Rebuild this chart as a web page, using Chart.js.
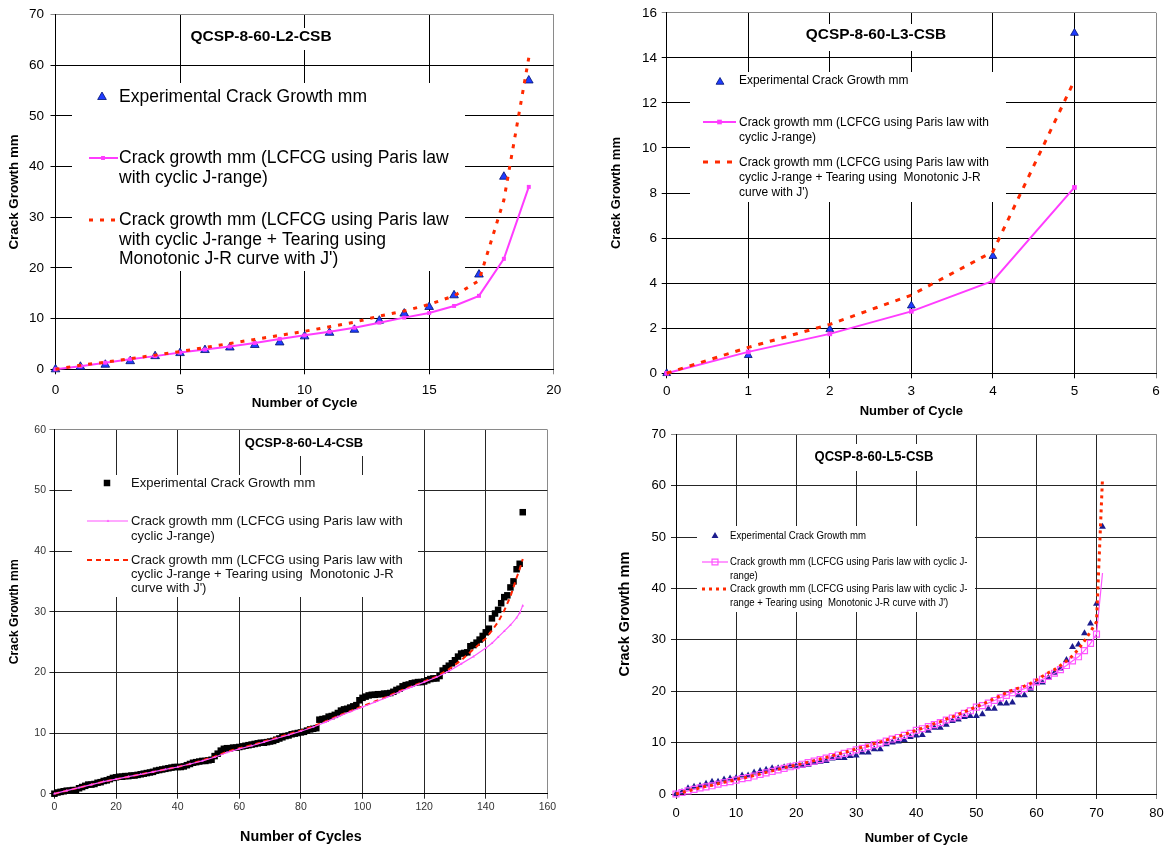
<!DOCTYPE html>
<html>
<head>
<meta charset="utf-8">
<title>QCSP-8-60 crack growth</title>
<script src="https://cdn.jsdelivr.net/npm/chart.js@4.4.1/dist/chart.umd.min.js"></script>
<style>
  html, body { margin: 0; padding: 0; background: #ffffff; }
  body { width: 1170px; height: 848px; position: relative; overflow: hidden; }
  .panel { position: absolute; }
  .panel canvas { display: block; }
</style>
</head>
<body>
<div class="panel" style="left:0px;top:0px;width:585px;height:420px"><canvas id="chartL2"></canvas></div>
<div class="panel" style="left:585px;top:0px;width:585px;height:420px"><canvas id="chartL3"></canvas></div>
<div class="panel" style="left:0px;top:420px;width:585px;height:428px"><canvas id="chartL4"></canvas></div>
<div class="panel" style="left:585px;top:420px;width:585px;height:428px"><canvas id="chartL5"></canvas></div>
<script>
// ---------- Specimen QCSP-8-60-L2-CSB ----------
const l2Cycles = [0, 1, 2, 3, 4, 5, 6, 7, 8, 9, 10, 11, 12, 13, 14, 15, 16, 17, 18, 19];
const l2Experimental = [0, 0.5, 0.9, 1.6, 2.6, 3.2, 3.8, 4.3, 4.8, 5.3, 6.5, 7.2, 7.8, 9.6, 11.0, 12.3, 14.6, 18.7, 38.0, 57.0];
const l2ParisJ = [0, 0.6, 1.3, 2.0, 2.6, 3.3, 3.9, 4.5, 5.2, 6.0, 6.7, 7.4, 8.2, 9.2, 10.2, 11.1, 12.5, 14.5, 21.8, 36.0];
const l2ParisJTearing = [0, 0.8, 1.4, 2.1, 2.8, 3.5, 4.3, 5.1, 5.9, 6.7, 7.5, 8.4, 9.3, 10.5, 11.5, 12.8, 14.5, 17.5, 33.4, 61.5];

// ---------- Specimen QCSP-8-60-L3-CSB ----------
const l3Cycles = [0, 1, 2, 3, 4, 5];
const l3Experimental = [0, 0.8, 1.95, 3.0, 5.2, 15.1];
const l3ParisJ = [0, 0.95, 1.75, 2.75, 4.1, 8.25];
const l3ParisJTearing = [0, 1.15, 2.17, 3.47, 5.4, 13.0];

// ---------- Specimen QCSP-8-60-L4-CSB ----------
const l4Cycles = [
  0, 1, 2, 3, 4, 5, 6, 7, 8, 9, 10, 11, 12, 13, 14, 15, 16, 17, 18, 19,
  20, 21, 22, 23, 24, 25, 26, 27, 28, 29, 30, 31, 32, 33, 34, 35, 36, 37, 38, 39,
  40, 41, 42, 43, 44, 45, 46, 47, 48, 49, 50, 51, 52, 53, 54, 55, 56, 57, 58, 59,
  60, 61, 62, 63, 64, 65, 66, 67, 68, 69, 70, 71, 72, 73, 74, 75, 76, 77, 78, 79,
  80, 81, 82, 83, 84, 85, 86, 87, 88, 89, 90, 91, 92, 93, 94, 95, 96, 97, 98, 99,
  100, 101, 102, 103, 104, 105, 106, 107, 108, 109, 110, 111, 112, 113, 114, 115, 116, 117, 118, 119,
  120, 121, 122, 123, 124, 125, 126, 127, 128, 129, 130, 131, 132, 133, 134, 135, 136, 137, 138, 139,
  140, 141, 142, 143, 144, 145, 146, 147, 148, 149, 150, 151, 152
];
const l4Experimental = [
  0.0, 0.2, 0.3, 0.4, 0.5, 0.5, 0.6, 0.6, 0.9, 1.1,
  1.3, 1.5, 1.5, 1.6, 1.8, 1.9, 2.1, 2.2, 2.4, 2.6,
  2.7, 2.8, 2.8, 2.9, 2.9, 3.0, 3.0, 3.1, 3.2, 3.3,
  3.4, 3.5, 3.6, 3.8, 3.9, 4.0, 4.1, 4.2, 4.3, 4.4,
  4.4, 4.4, 4.5, 4.7, 4.9, 5.1, 5.2, 5.3, 5.4, 5.4,
  5.5, 5.6, 6.2, 6.6, 7.1, 7.4, 7.5, 7.5, 7.6, 7.6,
  7.7, 7.8, 7.9, 8.0, 8.1, 8.2, 8.3, 8.4, 8.4, 8.5,
  8.6, 8.7, 8.9, 9.1, 9.3, 9.5, 9.6, 9.8, 9.9, 10.0,
  10.1, 10.2, 10.4, 10.6, 10.7, 10.8, 12.2, 12.3, 12.4, 12.7,
  12.8, 13.0, 13.3, 13.7, 13.9, 14.0, 14.2, 14.4, 14.6, 15.4,
  15.8, 16.0, 16.2, 16.3, 16.3, 16.4, 16.4, 16.5, 16.5, 16.6,
  16.8, 17.1, 17.3, 17.7, 17.9, 18.0, 18.2, 18.3, 18.4, 18.4,
  18.5, 18.7, 18.9, 19.0, 19.0, 19.4, 20.3, 20.7, 21.1, 21.5,
  22.0, 22.6, 23.1, 23.2, 23.3, 24.3, 24.5, 24.9, 25.4, 26.0,
  26.6, 27.2, 28.9, 29.7, 30.3, 31.4, 32.4, 32.7, 34.0, 35.0,
  37.0, 37.9, 46.4
];
const l4ModelCycles = [0, 4, 8, 12, 16, 20, 24, 28, 32, 36, 40, 44, 48, 52, 56, 60, 64, 68, 72, 76,
  80, 84, 88, 92, 96, 100, 104, 108, 112, 116, 120, 124, 128, 132, 136, 140, 142, 144, 146, 148, 150, 151, 152];
const l4ParisJ = [0, 0.5, 1.0, 1.5, 2.0, 2.4, 2.8, 3.2, 3.6, 4.0, 4.4, 4.9, 5.4, 6.0, 6.8, 7.4, 7.9, 8.5, 9.1, 9.7,
  10.3, 11.0, 11.8, 12.7, 13.5, 14.3, 15.1, 15.9, 16.8, 17.6, 18.4, 19.2, 20.2, 21.4, 22.6, 24.0, 24.8, 25.8, 26.8, 27.8, 29.0, 29.8, 31.0];
const l4ParisJTearing = [0, 0.5, 1.0, 1.5, 2.0, 2.4, 2.8, 3.2, 3.6, 4.0, 4.4, 4.9, 5.5, 6.1, 6.9, 7.5, 8.0, 8.6, 9.2, 9.8,
  10.4, 11.1, 11.9, 12.8, 13.6, 14.4, 15.2, 16.0, 16.9, 17.7, 18.5, 19.3, 20.5, 22.0, 23.8, 25.6, 26.9, 28.3, 30.2, 32.5, 35.6, 37.0, 38.7];

// ---------- Specimen QCSP-8-60-L5-CSB ----------
const l5Cycles = [
  0, 1, 2, 3, 4, 5, 6, 7, 8, 9, 10, 11, 12, 13, 14, 15, 16, 17, 18, 19,
  20, 21, 22, 23, 24, 25, 26, 27, 28, 29, 30, 31, 32, 33, 34, 35, 36, 37, 38, 39,
  40, 41, 42, 43, 44, 45, 46, 47, 48, 49, 50, 51, 52, 53, 54, 55, 56, 57, 58, 59,
  60, 61, 62, 63, 64, 65, 66, 67, 68, 69, 70, 71
];
const l5Experimental = [
  0, 0.4, 1.1, 1.4, 1.6, 2.0, 2.4, 2.4, 2.8, 3.0,
  3.1, 3.6, 3.6, 4.2, 4.5, 4.7, 5.0, 5.0, 5.2, 5.4,
  5.5, 5.5, 5.7, 6.1, 6.3, 6.4, 6.9, 7.0, 7.0, 7.4,
  7.5, 8.1, 8.1, 8.7, 8.7, 9.7, 10.0, 10.2, 10.5, 11.1,
  11.4, 11.5, 12.3, 12.9, 12.9, 13.5, 14.2, 14.5, 15.0, 15.2,
  15.2, 15.5, 16.6, 16.6, 17.6, 17.6, 17.8, 19.2, 19.2, 20.5,
  21.7, 21.7, 22.6, 23.6, 24.4, 26.1, 28.6, 29.1, 31.3, 33.2,
  37.0, 52.0
];
const l5ParisJ = [
  0, 0.3, 0.6, 0.9, 1.2, 1.4, 1.6, 1.9, 2.2, 2.4,
  2.7, 3.0, 3.2, 3.5, 3.8, 4.1, 4.4, 4.7, 5.0, 5.3,
  5.5, 5.8, 6.1, 6.4, 6.7, 7.0, 7.3, 7.6, 7.9, 8.2,
  8.6, 8.9, 9.2, 9.6, 9.9, 10.3, 10.7, 11.0, 11.4, 11.8,
  12.4, 12.7, 13.1, 13.5, 13.9, 14.4, 14.8, 15.2, 15.7, 16.2,
  16.9, 17.2, 17.7, 18.2, 18.7, 19.2, 19.7, 20.1, 20.5, 21.0,
  21.8, 22.3, 22.9, 23.5, 24.2, 25.0, 25.9, 26.7, 27.9, 29.3,
  31.1, 43.0
];
const l5ParisJTearing = [
  0, 0.3, 0.6, 0.9, 1.2, 1.5, 1.7, 2.0, 2.3, 2.5,
  2.8, 3.1, 3.3, 3.6, 3.9, 4.2, 4.5, 4.8, 5.1, 5.4,
  5.6, 5.9, 6.2, 6.5, 6.8, 7.1, 7.4, 7.8, 8.1, 8.4,
  8.8, 9.1, 9.4, 9.8, 10.1, 10.5, 10.9, 11.2, 11.6, 12.0,
  12.4, 12.8, 13.2, 13.7, 14.1, 14.6, 15.0, 15.5, 16.0, 16.5,
  17.0, 17.5, 18.0, 18.6, 19.1, 19.7, 20.2, 20.6, 21.0, 21.5,
  22.2, 22.9, 23.6, 24.2, 25.0, 25.9, 26.9, 28.2, 29.8, 31.6,
  33.5, 61.5
];

// ---------- Shared text ----------
const LABEL_EXP = 'Experimental Crack Growth mm';
const Y_TITLE = 'Crack Growth mm';
const FONT = '"Liberation Sans", Arial, Helvetica, sans-serif';

const pairs = (xs, ys) => ys.map((y, i) => ({ x: xs[i], y: y }));

function drawText(ctx, s, x, y, sx) {
  ctx.save();
  ctx.translate(x, y);
  ctx.scale(sx, 1);
  ctx.fillText(s, 0, 0);
  ctx.restore();
}

// White boxes, heading and series key drawn inside the plot area
const notesPlugin = {
  id: 'notes',
  beforeDatasetsDraw(chart, args, o) {
    const ctx = chart.ctx;
    ctx.save();
    ctx.fillStyle = '#ffffff';
    o.boxes.forEach(b => ctx.fillRect(b[0], b[1], b[2], b[3]));

    const t = o.title;
    ctx.fillStyle = '#000000';
    ctx.font = 'bold ' + t.size + 'px ' + FONT;
    ctx.textAlign = 'center';
    ctx.textBaseline = 'middle';
    drawText(ctx, t.text, t.x, t.y, t.scaleX || 1);

    const lg = o.legend;
    ctx.font = lg.size + 'px ' + FONT;
    ctx.textAlign = 'left';
    lg.entries.forEach(e => {
      const ds = chart.data.datasets[e.ds];
      if (e.line) {
        ctx.save();
        ctx.strokeStyle = ds.borderColor;
        ctx.lineWidth = ds.borderWidth;
        ctx.setLineDash(ds.borderDash || []);
        ctx.beginPath();
        ctx.moveTo(e.line[0], e.markY);
        ctx.lineTo(e.line[1], e.markY);
        ctx.stroke();
        ctx.restore();
      }
      if (e.markR) {
        ctx.save();
        ctx.setLineDash([]);
        ctx.fillStyle = ds.pointBackgroundColor;
        ctx.strokeStyle = ds.pointBorderColor;
        ctx.lineWidth = ds.pointBorderWidth;
        Chart.helpers.drawPoint(ctx, { pointStyle: ds.pointStyle, rotation: 0, radius: e.markR, borderWidth: ds.pointBorderWidth }, e.markX, e.markY);
        ctx.restore();
      }
      ctx.fillStyle = lg.color;
      e.lines.forEach((s, i) => drawText(ctx, s, lg.textX, e.y[i], lg.scaleX || 1));
    });
    ctx.restore();
  }
};

function edgeColor(max, inner) {
  return c => (c.tick && c.tick.value === max) ? '#8a8a8a' : inner;
}

function buildChart(id, s) {
  const g = s.geom;
  return new Chart(document.getElementById(id), {
    type: 'scatter',
    data: { datasets: s.datasets },
    options: {
      responsive: true,
      maintainAspectRatio: false,
      animation: false,
      devicePixelRatio: 1,
      events: [],
      layout: { padding: { left: 0, top: g.T, right: g.W - g.R, bottom: 0 } },
      plugins: { legend: { display: false }, tooltip: { enabled: false }, notes: s.notes },
      scales: {
        x: {
          type: 'linear', min: s.x.min, max: s.x.max,
          ticks: { stepSize: s.x.step, autoSkip: false, maxRotation: 0, padding: s.x.tickPad,
                   color: s.tickColor, font: { family: FONT, size: s.tickSize } },
          grid: { color: edgeColor(s.x.max, s.gridColor), lineWidth: 1, tickLength: 5 },
          border: { color: '#000000', width: 1 },
          title: { display: true, text: s.x.title, color: '#000000',
                   font: { family: FONT, size: s.x.titleSize, weight: 'bold' },
                   padding: { top: 0, bottom: s.x.titlePad } },
          afterFit: sc => { sc.height = g.H - g.B; }
        },
        y: {
          type: 'linear', min: s.y.min, max: s.y.max,
          ticks: { stepSize: s.y.step, autoSkip: false, padding: s.y.tickPad,
                   color: s.tickColor, font: { family: FONT, size: s.tickSize } },
          grid: { color: edgeColor(s.y.max, s.gridColor), lineWidth: 1, tickLength: 5 },
          border: { color: '#000000', width: 1 },
          title: { display: true, text: Y_TITLE, color: '#000000',
                   font: { family: FONT, size: s.y.titleSize, weight: 'bold' },
                   padding: { top: s.y.titlePad, bottom: 0 } },
          afterFit: sc => { sc.width = g.L; }
        }
      }
    },
    plugins: [notesPlugin]
  });
}

// ---------- L2 ----------
buildChart('chartL2', {
  geom: { W: 585, H: 420, L: 55.5, T: 13.3, R: 553.7, B: 369.3 },
  tickSize: 13.5, tickColor: '#000000', gridColor: '#000000',
  x: { min: 0, max: 20, step: 5, tickPad: 7.6, title: 'Number of Cycle', titleSize: 13.3, titlePad: 9 },
  y: { min: 0, max: 70, step: 10, tickPad: 6.5, titleSize: 13.4, titlePad: 6 },
  datasets: [
    { data: pairs(l2Cycles, l2Experimental), order: 3, pointStyle: 'triangle', pointRadius: 5,
      pointBackgroundColor: '#1f3cff', pointBorderColor: '#00106e', pointBorderWidth: 0.8, showLine: false, clip: false },
    { data: pairs(l2Cycles, l2ParisJ), order: 2, showLine: true, borderColor: '#ff3cff', borderWidth: 2, tension: 0,
      pointStyle: 'rect', pointRadius: 2.8, pointBackgroundColor: '#ff3cff', pointBorderColor: '#ff3cff', pointBorderWidth: 0, clip: false },
    { data: pairs(l2Cycles, l2ParisJTearing), order: 1, showLine: true, borderColor: '#ff2a00', borderWidth: 3, borderDash: [4, 7], tension: 0,
      pointRadius: 0, pointBackgroundColor: '#ff2a00', pointBorderColor: '#ff2a00', pointBorderWidth: 0, clip: false }
  ],
  notes: {
    boxes: [[72, 83, 393, 188], [183, 28, 158, 22]],
    title: { text: 'QCSP-8-60-L2-CSB', x: 261, y: 37, size: 15.5 },
    legend: { size: 17.5, color: '#000000', textX: 119, entries: [
      { ds: 0, markX: 102, markY: 97, markR: 5, lines: [LABEL_EXP], y: [97] },
      { ds: 1, line: [89, 118], markX: 103, markY: 158, markR: 2.8,
        lines: ['Crack growth mm (LCFCG using Paris law', 'with cyclic J-range)'], y: [158, 178] },
      { ds: 2, line: [89, 118], markY: 220,
        lines: ['Crack growth mm (LCFCG using Paris law', 'with cyclic J-range + Tearing using', "Monotonic J-R curve with J')"], y: [220, 240, 259] }
    ] }
  }
});

// ---------- L3 ----------
buildChart('chartL3', {
  geom: { W: 585, H: 420, L: 81.7, T: 12.3, R: 571, B: 373.3 },
  tickSize: 13.5, tickColor: '#000000', gridColor: '#000000',
  x: { min: 0, max: 6, step: 1, tickPad: 4.6, title: 'Number of Cycle', titleSize: 13, titlePad: 1.2 },
  y: { min: 0, max: 16, step: 2, tickPad: 4.7, titleSize: 13, titlePad: 23.2 },
  datasets: [
    { data: pairs(l3Cycles, l3Experimental), order: 3, pointStyle: 'triangle', pointRadius: 4.5,
      pointBackgroundColor: '#1f3cff', pointBorderColor: '#00106e', pointBorderWidth: 0.8, showLine: false, clip: false },
    { data: pairs(l3Cycles, l3ParisJ), order: 2, showLine: true, borderColor: '#ff3cff', borderWidth: 2, tension: 0,
      pointStyle: 'rect', pointRadius: 3.3, pointBackgroundColor: '#ff3cff', pointBorderColor: '#ff3cff', pointBorderWidth: 0, clip: false },
    { data: pairs(l3Cycles, l3ParisJTearing), order: 1, showLine: true, borderColor: '#ff2a00', borderWidth: 3, borderDash: [5, 7], tension: 0,
      pointRadius: 0, pointBackgroundColor: '#ff2a00', pointBorderColor: '#ff2a00', pointBorderWidth: 0, clip: false }
  ],
  notes: {
    boxes: [[105, 72, 316, 130], [215, 24, 152, 27]],
    title: { text: 'QCSP-8-60-L3-CSB', x: 291, y: 35, size: 15.4 },
    legend: { size: 13, scaleX: 0.92, color: '#000000', textX: 154, entries: [
      { ds: 0, markX: 135, markY: 82, markR: 4.5, lines: [LABEL_EXP], y: [80] },
      { ds: 1, line: [118, 151], markX: 134.5, markY: 122, markR: 3.3,
        lines: ['Crack growth mm (LCFCG using Paris law with', 'cyclic J-range)'], y: [122, 137] },
      { ds: 2, line: [118, 151], markY: 162,
        lines: ['Crack growth mm (LCFCG using Paris law with', 'cyclic J-range + Tearing using  Monotonic J-R', "curve with J')"], y: [162, 177, 192] }
    ] }
  }
});

// ---------- L4 ----------
buildChart('chartL4', {
  geom: { W: 585, H: 428, L: 54.4, T: 3.3, R: 547.4, B: 373.7 },
  tickSize: 10.5, tickColor: '#333333', gridColor: '#262626',
  x: { min: 0, max: 160, step: 20, tickPad: 2, title: 'Number of Cycles', titleSize: 14.3, titlePad: 2.4 },
  y: { min: 0, max: 60, step: 10, tickPad: 3.4, titleSize: 12.2, titlePad: 7.7 },
  datasets: [
    { data: pairs(l4Cycles, l4Experimental), order: 3, pointStyle: 'rect', pointRadius: 4.6,
      pointBackgroundColor: '#000000', pointBorderColor: '#000000', pointBorderWidth: 0, showLine: false, clip: false },
    { data: pairs(l4ModelCycles, l4ParisJ), order: 1, showLine: true, borderColor: '#ff55ff', borderWidth: 1.2, tension: 0,
      pointStyle: 'triangle', pointRadius: 1.6, pointBackgroundColor: '#ff55ff', pointBorderColor: '#ff55ff', pointBorderWidth: 0, clip: false },
    { data: pairs(l4ModelCycles, l4ParisJTearing), order: 2, showLine: true, borderColor: '#ff2200', borderWidth: 2, borderDash: [5, 4], tension: 0,
      pointRadius: 0, pointBackgroundColor: '#ff2200', pointBorderColor: '#ff2200', pointBorderWidth: 0, clip: false }
  ],
  notes: {
    boxes: [[242, 10, 128, 26]].concat([[72, 55, 346, 122]]),
    title: { text: 'QCSP-8-60-L4-CSB', x: 304, y: 23, size: 13 },
    legend: { size: 13, color: '#111111', textX: 131, entries: [
      { ds: 0, markX: 107, markY: 63, markR: 4.6, lines: [LABEL_EXP], y: [63] },
      { ds: 1, line: [87, 128], markX: 108, markY: 101, markR: 1.6,
        lines: ['Crack growth mm (LCFCG using Paris law with', 'cyclic J-range)'], y: [101, 116] },
      { ds: 2, line: [87, 128], markY: 140,
        lines: ['Crack growth mm (LCFCG using Paris law with', 'cyclic J-range + Tearing using  Monotonic J-R', "curve with J')"], y: [140, 154, 168] }
    ] }
  }
});

// ---------- L5 ----------
const l5Last = l5Cycles.length - 1;
buildChart('chartL5', {
  geom: { W: 585, H: 428, L: 91, T: 14.3, R: 576.5, B: 374 },
  tickSize: 13, tickColor: '#000000', gridColor: '#262626',
  x: { min: 0, max: 80, step: 10, tickPad: 6.2, title: 'Number of Cycle', titleSize: 13, titlePad: 2.2 },
  y: { min: 0, max: 70, step: 10, tickPad: 5, titleSize: 14.5, titlePad: 31.3 },
  datasets: [
    { data: pairs(l5Cycles, l5Experimental), order: 3, pointStyle: 'triangle', pointRadius: 4,
      pointBackgroundColor: '#1c1c8e', pointBorderColor: '#1c1c8e', pointBorderWidth: 0, showLine: false, clip: false },
    { data: pairs(l5Cycles, l5ParisJ), order: 2, showLine: true, borderColor: '#ff55ff', borderWidth: 1.2, tension: 0,
      pointStyle: 'rect', pointRadius: c => (c.dataIndex === l5Last ? 0 : 4.2),
      pointBackgroundColor: 'rgba(255,255,255,0)', pointBorderColor: '#ff55ff', pointBorderWidth: 1.2, clip: false },
    { data: pairs(l5Cycles, l5ParisJTearing), order: 1, showLine: true, borderColor: '#ff2a00', borderWidth: 3, borderDash: [3, 4], tension: 0,
      pointRadius: 0, pointBackgroundColor: '#ff2a00', pointBorderColor: '#ff2a00', pointBorderWidth: 0, clip: false }
  ],
  notes: {
    boxes: [[112, 106, 278, 86], [223, 24, 133, 27]],
    title: { text: 'QCSP-8-60-L5-CSB', x: 289, y: 37, size: 15, scaleX: 0.87 },
    legend: { size: 11.5, scaleX: 0.835, color: '#000000', textX: 145, entries: [
      { ds: 0, markX: 130, markY: 116, markR: 4, lines: [LABEL_EXP], y: [116] },
      { ds: 1, line: [117, 143], markX: 130, markY: 142, markR: 4.2,
        lines: ['Crack growth mm (LCFCG using Paris law with cyclic J-', 'range)'], y: [142, 156] },
      { ds: 2, line: [117, 143], markY: 169,
        lines: ['Crack growth mm (LCFCG using Paris law with cyclic J-', "range + Tearing using  Monotonic J-R curve with J')"], y: [169, 183] }
    ] }
  }
});
</script>
</body>
</html>
